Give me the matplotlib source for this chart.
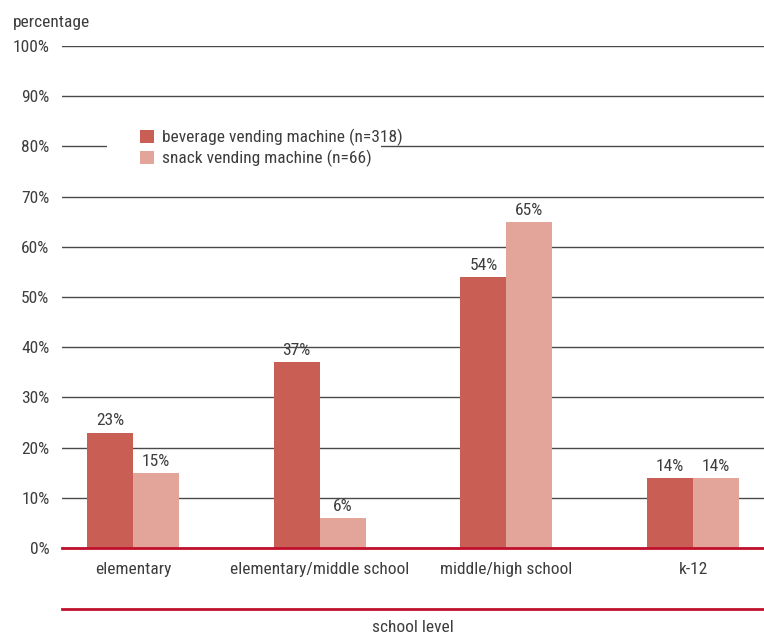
import numpy as np
import matplotlib
matplotlib.use("Agg")

import matplotlib.pyplot as plt
from matplotlib.lines import Line2D
from matplotlib.patches import Rectangle

levels = ["elementary", "elementary/middle school", "middle/high school", "k-12"]
beverage = [23, 37, 54, 14]
snack = [15, 6, 65, 14]
series_names = ["beverage vending machine (n=318)", "snack vending machine (n=66)"]
y_ticks = [0, 10, 20, 30, 40, 50, 60, 70, 80, 90, 100]

BEV_COLOR = "#c95e55"
SNACK_COLOR = "#e3a59a"
RED = "#c0102c"
TEXT = "#3d3d3d"
FS = 12.5

plt.rcParams["font.family"] = ["Roboto Condensed", "Archivo Narrow", "Liberation Sans", "DejaVu Sans"]

fig = plt.figure(figsize=(7.64, 6.34), dpi=100)
ax = fig.add_axes([62 / 764, 1 - 548 / 634, 1 - 62 / 764, (548 - 46) / 634])

x = np.arange(len(levels))
w = 0.246

b1 = ax.bar(x - w / 2, beverage, w, color=BEV_COLOR, zorder=3, label=series_names[0])
b2 = ax.bar(x + w / 2, snack, w, color=SNACK_COLOR, zorder=3, label=series_names[1])

for bars in (b1, b2):
    ax.bar_label(bars, labels=[f"{v}%" for v in bars.datavalues],
                 padding=3, fontsize=FS, color=TEXT)

ax.set_xlim(-0.38, 3.38)
ax.set_ylim(0, 100)
ax.set_yticks(y_ticks)
ax.set_yticklabels([f"{v}%" for v in y_ticks])
ax.set_xticks(x)
ax.set_xticklabels(levels)
ax.tick_params(axis="both", length=0, labelsize=FS, labelcolor=TEXT)
ax.tick_params(axis="y", pad=9)
ax.tick_params(axis="x", pad=10)

ax.yaxis.grid(True, color="#4a4a4a", linewidth=1.0, zorder=0)
ax.set_axisbelow(True)

for side in ["top", "right", "left"]:
    ax.spines[side].set_visible(False)
ax.spines["bottom"].set_color(RED)
ax.spines["bottom"].set_linewidth(2)
ax.spines["bottom"].set_zorder(4)

# white patch behind the legend so the 80% line breaks there
ax.add_patch(Rectangle((107 / 764, 1 - 176 / 634), (381 - 107) / 764, 55 / 634,
                       transform=fig.transFigure, facecolor="white",
                       edgecolor="none", zorder=1, clip_on=False))

ax.legend(loc="upper left", bbox_to_anchor=(126 / 764, 1 - 115 / 634),
          bbox_transform=fig.transFigure, frameon=False, fontsize=FS,
          handlelength=0.8, handleheight=0.8, handletextpad=0.45,
          labelspacing=0.22, labelcolor=TEXT, borderpad=0.3)

fig.text(13 / 764, 1 - 22 / 634, "percentage", fontsize=FS, color=TEXT,
         ha="left", va="center")

fig.add_artist(Line2D([62 / 764, 1.0], [1 - 609 / 634, 1 - 609 / 634],
                      transform=fig.transFigure, color=RED, linewidth=2))
fig.text(413 / 764, 1 - 628 / 634, "school level", fontsize=FS, color=TEXT,
         ha="center", va="center")

fig.savefig("out.png", dpi=100)
